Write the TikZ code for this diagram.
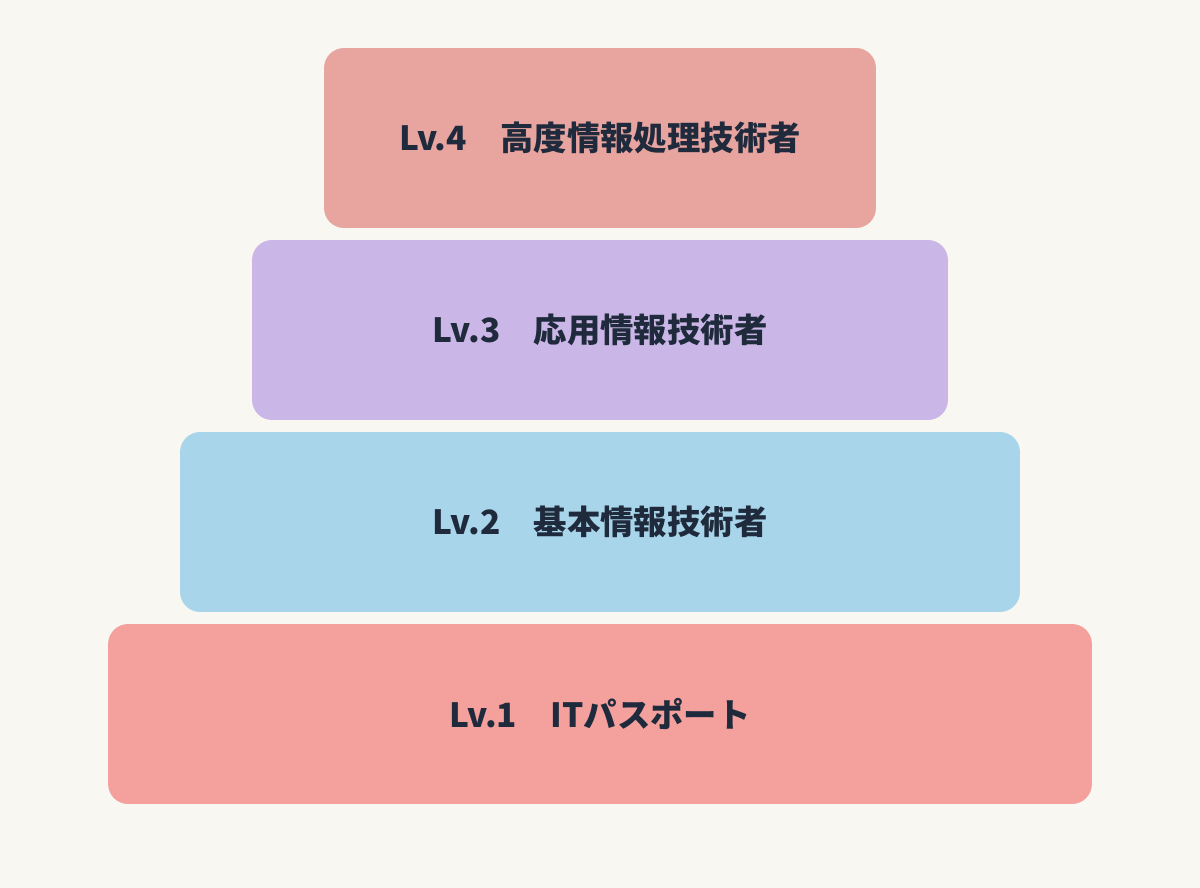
\documentclass[tikz,border=0pt]{standalone}
\usepackage{fontspec}
\newfontfamily\cjk{Noto Sans CJK JP}
\definecolor{bgcol}{HTML}{F9F7F2}
\definecolor{lvfour}{HTML}{E8A49F}
\definecolor{lvthree}{HTML}{CBB7E7}
\definecolor{lvtwo}{HTML}{A8D5EA}
\definecolor{lvone}{HTML}{F4A19E}
\definecolor{ink}{HTML}{1F2A3C}
\tikzset{level/.style={rounded corners=0.4cm, minimum height=3.6cm,
  inner sep=0pt, text=ink, font=\cjk\bfseries\fontsize{19}{22}\selectfont}}

\begin{document}
\begin{tikzpicture}[x=0.02cm, y=-0.02cm]
% Background
    \fill[bgcol] (0,0) rectangle (1200,888);
% Levels
    \node[level, fill=lvfour, minimum width=11.04cm] (lv4) at (600,138) {Lv.4　高度情報処理技術者};
    \node[level, fill=lvthree, minimum width=13.92cm] (lv3) at (600,330) {Lv.3　応用情報技術者};
    \node[level, fill=lvtwo, minimum width=16.8cm] (lv2) at (600,522) {Lv.2　基本情報技術者};
    \node[level, fill=lvone, minimum width=19.68cm] (lv1) at (600,714) {Lv.1　ITパスポート};
\end{tikzpicture}
\end{document}
